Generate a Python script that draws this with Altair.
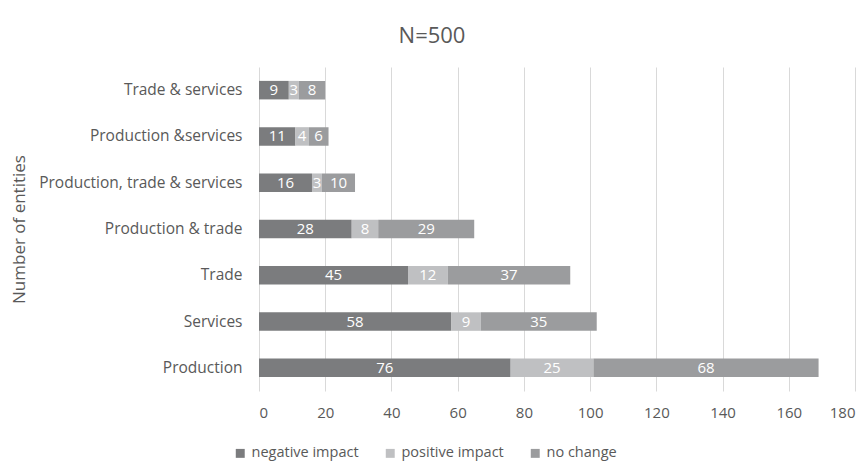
import altair as alt
import pandas as pd

categories = ["Trade & services", "Production &services", "Production, trade & services",
              "Production & trade", "Trade", "Services", "Production"]
negative_impact = [9, 11, 16, 28, 45, 58, 76]
positive_impact = [3, 4, 3, 8, 12, 9, 25]
no_change = [8, 6, 10, 29, 37, 35, 68]
series = ["negative impact", "positive impact", "no change"]
colors = ["#7b7c7e", "#bfc0c2", "#9b9c9e"]

rows = []
for i, c in enumerate(categories):
    for k, (s, vals) in enumerate(zip(series, [negative_impact, positive_impact, no_change])):
        rows.append({"category": c, "series": s, "value": vals[i], "order": k})
df = pd.DataFrame(rows)

FONT = "Open Sans"
GRAY = "#595959"

base = alt.Chart(df).transform_stack(
    stack="value", groupby=["category"], as_=["x0", "x1"],
    sort=[alt.SortField("order", order="ascending")]
).transform_calculate(mid="(datum.x0 + datum.x1) / 2")

y_enc = alt.Y("category:N", sort=categories, scale=alt.Scale(paddingInner=0.6, paddingOuter=0.3),
              axis=alt.Axis(title="Number of entities", titleAngle=270, titleX=-240, titleY=162,
                            titleAlign="center", titleBaseline="middle", titleFontSize=17,
                            titleFontWeight="normal", titleColor=GRAY, titleFont=FONT,
                            labelFont=FONT, labelFontSize=15.5, labelColor=GRAY, labelPadding=17,
                            labelLimit=300, ticks=False, domain=False, grid=False))

bars = base.mark_bar().encode(
    x=alt.X("x0:Q", scale=alt.Scale(domain=[0, 180]),
            axis=alt.Axis(title=None, values=list(range(0, 181, 20)), labelFont=FONT,
                          labelFontSize=15, labelColor=GRAY, labelPadding=14, ticks=False,
                          domain=False, grid=True, gridColor="#d9d9d9")),
    x2="x1:Q",
    y=y_enc,
    color=alt.Color("series:N", sort=series, scale=alt.Scale(domain=series, range=colors),
                    legend=alt.Legend(title=None, orient="none", direction="horizontal",
                                      legendX=-26, legendY=379, symbolType="square",
                                      symbolSize=80, symbolStrokeWidth=0, labelFont=FONT,
                                      labelFontSize=14.5, labelColor=GRAY, columnPadding=24,
                                      labelOffset=4)),
)

labels = base.mark_text(color="white", font=FONT, fontSize=15, baseline="middle").encode(
    x="mid:Q",
    y=alt.Y("category:N", sort=categories),
    text="value:Q",
)

chart = alt.layer(bars, labels).properties(
    width=596, height=324,
    title=alt.TitleParams("N=500", font=FONT, fontSize=22, fontWeight="normal", color=GRAY,
                          anchor="middle", dx=-125, offset=19),
    autosize=alt.AutoSizeParams(type="none"),
    padding={"left": 251, "top": 59, "right": 3, "bottom": 70},
).configure_view(stroke=None)

chart.save("out.html", embed_options={"renderer": "svg", "actions": False})
